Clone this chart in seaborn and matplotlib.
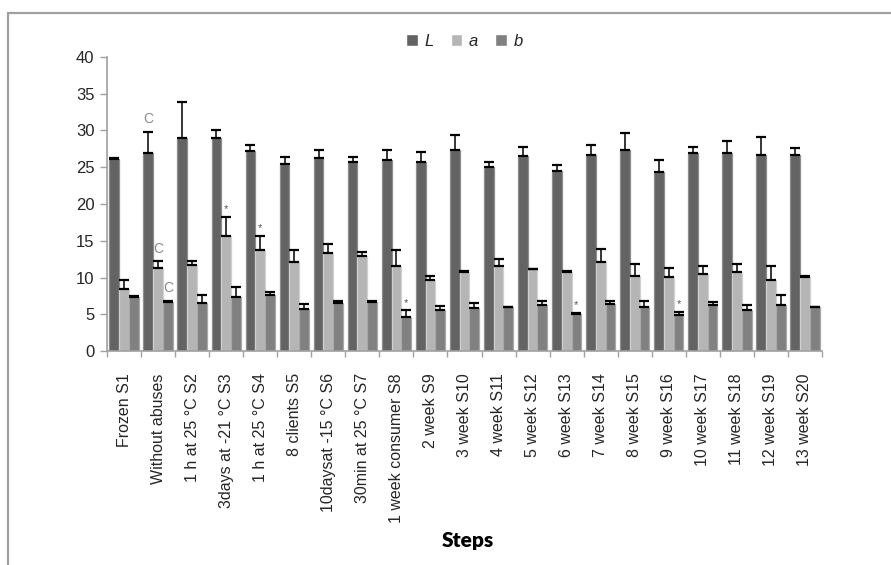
import matplotlib
matplotlib.use("Agg")
import matplotlib.pyplot as plt
from matplotlib.patches import Rectangle
import numpy as np
import pandas as pd
import seaborn as sns

# Colour measurements (L*, a*, b*) along the cold-chain steps
steps = [
    "Frozen S1", "Without abuses", "1 h at 25 °C S2", "3days at -21 °C S3",
    "1 h at 25 °C S4", "8 clients S5", "10daysat -15 °C S6", "30min at 25 °C S7",
    "1 week consumer S8", "2 week S9", "3 week S10", "4 week S11", "5 week S12",
    "6 week S13", "7 week S14", "8 week S15", "9 week S16", "10 week S17",
    "11 week S18", "12 week S19", "13 week S20",
]
channels = ["L", "a", "b"]

L_mean = [26.1, 27.0, 29.0, 29.0, 27.2, 25.4, 26.2, 25.7, 26.0, 25.75, 27.4,
          25.0, 26.5, 24.5, 26.6, 27.4, 24.3, 27.0, 27.0, 26.6, 26.6]
L_err = [0.1, 2.8, 4.9, 1.1, 0.8, 0.95, 1.15, 0.65, 1.35, 1.35, 2.0,
         0.75, 1.25, 0.8, 1.4, 2.25, 1.7, 0.8, 1.6, 2.5, 1.0]

a_mean = [8.5, 11.25, 11.7, 15.7, 13.7, 12.05, 13.3, 12.9, 11.5, 9.65, 10.8,
          11.5, 11.1, 10.8, 12.05, 10.2, 10.07, 10.5, 10.7, 9.65, 10.07]
a_err = [1.1, 0.95, 0.6, 2.5, 1.95, 1.65, 1.2, 0.6, 2.2, 0.55, 0.1,
         1.0, 0.1, 0.1, 1.85, 1.6, 1.2, 1.0, 1.1, 1.85, 0.1]

b_mean = [7.4, 6.6, 6.5, 7.4, 7.6, 5.75, 6.5, 6.7, 4.67, 5.6, 5.8,
          5.95, 6.2, 5.0, 6.35, 5.95, 4.94, 6.26, 5.6, 6.2, 5.95]
b_err = [0.1, 0.2, 1.1, 1.35, 0.4, 0.6, 0.3, 0.1, 0.85, 0.5, 0.7,
         0.1, 0.6, 0.15, 0.45, 0.85, 0.32, 0.35, 0.6, 1.4, 0.1]

# Significance marks: (step index, channel, text)
marks = [(1, "L", "C"), (1, "a", "C"), (1, "b", "C"),
         (3, "a", "*"), (4, "a", "*"), (8, "b", "*"), (13, "b", "*"), (16, "b", "*")]

means = {"L": L_mean, "a": a_mean, "b": b_mean}
errs = {"L": L_err, "a": a_err, "b": b_err}

df = pd.DataFrame({
    "Step": np.tile(steps, 3),
    "Channel": np.repeat(channels, len(steps)),
    "Value": L_mean + a_mean + b_mean,
})

fill = {"L": "#636363", "a": "#b5b5b5", "b": "#808080"}
edge = {"L": "#8e8e8e", "a": "#d0d0d0", "b": "#a8a8a8"}

sns.set_theme(style="white")
plt.rcParams["font.family"] = ["Liberation Sans", "DejaVu Sans"]

fig = plt.figure(figsize=(8.91, 5.65), dpi=100)
ax = fig.add_axes([107 / 891, 1 - 351 / 565, 715 / 891, 294 / 565])

sns.barplot(data=df, x="Step", y="Value", hue="Channel", order=steps,
            hue_order=channels, palette=fill, errorbar=None, width=0.86,
            saturation=1, ax=ax)

# upper-only error bars and significance marks
for ch, cont in zip(channels, ax.containers):
    xs, hs = [], []
    for bar in cont:
        bar.set_edgecolor(edge[ch])
        bar.set_linewidth(0.9)
        xs.append(bar.get_x() + bar.get_width() / 2)
        hs.append(bar.get_height())
    e = np.array(errs[ch])
    ax.errorbar(xs, hs, yerr=[np.zeros_like(e), e], fmt="none",
                ecolor="black", elinewidth=1.1, capsize=3.6, capthick=1.6,
                zorder=5)
    for idx, c, txt in marks:
        if c != ch:
            continue
        top = hs[idx] + errs[ch][idx]
        if txt == "C":
            ax.annotate(txt, (xs[idx], top), xytext=(0, 4),
                        textcoords="offset points", ha="center", va="bottom",
                        fontsize=10, color="#8a8a8a")
        else:
            ax.annotate(txt, (xs[idx], top), xytext=(0, 2),
                        textcoords="offset points", ha="center", va="bottom",
                        fontsize=8, color="#555555")

ax.set_ylim(0, 40)
ax.set_xlim(-0.5, len(steps) - 0.5)
ax.set_yticks(range(0, 41, 5))
ax.tick_params(axis="y", labelsize=12, length=5, width=1, color="#a0a0a0",
               left=True, pad=4)
ax.set_xticks(range(len(steps)))
ax.set_xticklabels(steps, rotation=90, fontsize=11.5)
ax.tick_params(axis="x", length=0, pad=16)
# category boundary ticks on the x axis
ax.set_xticks(np.arange(-0.5, len(steps), 1), minor=True)
ax.tick_params(axis="x", which="minor", length=4, width=1, color="#a0a0a0",
               bottom=True)

for s in ["top", "right"]:
    ax.spines[s].set_visible(False)
for s in ["left", "bottom"]:
    ax.spines[s].set_color("#a0a0a0")
    ax.spines[s].set_linewidth(1.2)

ax.set_ylabel("")
ax.set_xlabel("Steps", fontsize=15, fontweight="heavy", family="Lato",
              va="center", color="black")
ax.xaxis.set_label_coords((467.5 - 107) / 715, -(540 - 351) / 294)

handles, labels = ax.get_legend_handles_labels()
ax.legend(handles, labels, loc="center", bbox_to_anchor=(0.5, 1 + 16 / 294),
          ncol=3, frameon=False, handlelength=0.7, handleheight=0.7,
          handletextpad=0.4, columnspacing=1.0,
          prop={"style": "italic", "size": 12})

# outer chart frame
fig.patches.append(Rectangle((8 / 891, -0.2), 1.2, 1.2 - 13 / 565,
                             transform=fig.transFigure, fill=False,
                             edgecolor="#a0a0a0", linewidth=1.6))

fig.savefig("out.png", dpi=100)
